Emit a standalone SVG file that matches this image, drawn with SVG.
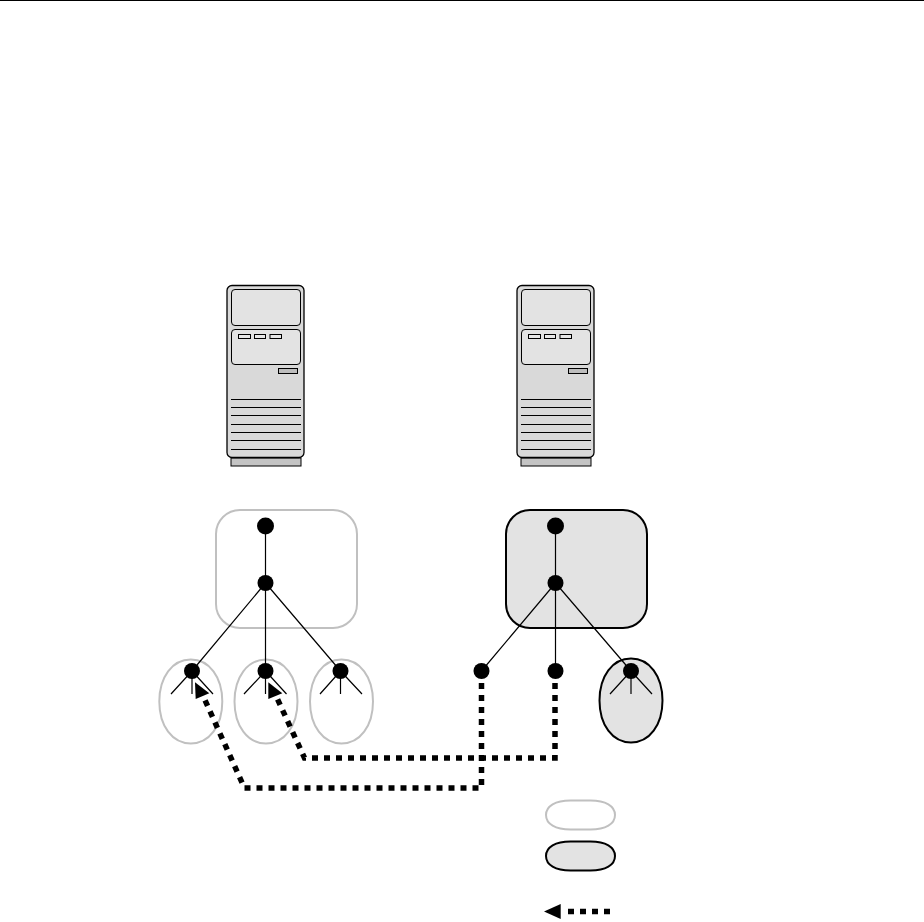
<svg xmlns="http://www.w3.org/2000/svg" width="924" height="922" viewBox="0 0 924 922">
<style>
.body{fill:#d9d9d9;stroke:#000;stroke-width:1.3}
.panel{fill:#e3e3e3;stroke:#000;stroke-width:1}
.btn{fill:#e8e8e8;stroke:#000;stroke-width:1}
.slot{fill:#bdbdbd;stroke:#000;stroke-width:1}
.base{fill:#c4c4c4;stroke:#000;stroke-width:1}
.line{stroke:#000;stroke-width:1.2;fill:none}
.light{fill:#fff;stroke:#c0c0c0;stroke-width:2}
.dark{fill:#e3e3e3;stroke:#000;stroke-width:2}
.dash{stroke:#000;stroke-width:5.5;stroke-dasharray:6 6;fill:none}
</style>
<defs>
<g id="server">
<rect class="base" x="231" y="458" width="70" height="8"/>
<rect class="body" x="227" y="285.500" width="77" height="172" rx="5"/>
<rect class="panel" x="231.500" y="289.500" width="69" height="36" rx="3.500"/>
<rect class="panel" x="231.500" y="329.500" width="69" height="35" rx="3.500"/>
<rect class="btn" x="238.500" y="334.500" width="12" height="4"/>
<rect class="btn" x="254.500" y="334.500" width="11" height="4"/>
<rect class="btn" x="270" y="334.500" width="11.500" height="4"/>
<rect class="slot" x="278.500" y="368.500" width="19" height="5"/>
<path class="line" d="M231 399.500H301M231 407.500H301M231 415.500H301M231 424.500H301M231 432.500H301M231 440.500H301M231 449.500H301"/>
</g>
<path id="egg" d="M0 -42C18.500 -42 31.500 -24.500 31.500 0C31.500 24.500 18.500 42 0 42C-18.500 42 -31.500 24.500 -31.500 0C-31.500 -24.500 -18.500 -42 0 -42Z"/>
<path id="pill" d="M-10 -14.500H10C25 -14.500 34.500 -9 34.500 0C34.500 9 25 14.500 10 14.500H-10C-25 14.500 -34.500 9 -34.500 0C-34.500 -9 -25 -14.500 -10 -14.500Z"/>
</defs>
<path d="M0 .5H924" stroke="#000" stroke-width="1"/>
<g id="server-1"><use href="#server"/></g>
<g id="server-2"><use href="#server" x="290"/></g>
<g id="group-1"><rect class="light" x="216" y="510" width="141" height="118" rx="24"/></g>
<g id="group-2"><rect class="dark" x="506" y="510" width="141" height="118" rx="24"/></g>
<g id="leaf-group-1"><use href="#egg" class="light" x="190.800" y="701.500"/></g>
<g id="leaf-group-2"><use href="#egg" class="light" x="266" y="701.500"/></g>
<g id="leaf-group-3"><use href="#egg" class="light" x="341.500" y="701.500"/></g>
<g id="leaf-group-4"><use href="#egg" class="dark" x="631" y="700.500"/></g>
<g id="connectors">
<path class="line" d="M265.500 526V583M265.500 583L192 671M265.500 583V671M265.500 583L340.500 671"/>
<path class="line" d="M555.500 526V583M555.500 583L481.500 671M555.500 583V671M555.500 583L631 671"/>
<path class="line" d="M192 671L171 694M192 671V694M192 671L213 694M265.500 671L244 694M265.500 671V694M265.500 671L286.500 694M340.500 671L320 694M340.500 671V694M340.500 671L362 694M631 671L610 694M631 671V694M631 671L652 694"/>
<path class="dash" d="M481.500 683V788H244.500L204 698"/>
<path class="dash" d="M555 683V758H304.500L277 698"/>
<path d="M195 682.300L209.300 693.300L195.700 699Z" fill="#000"/>
<path d="M268.300 682.300L282.300 693.300L268.300 699Z" fill="#000"/>
<path class="dash" d="M610 911.500H562"/>
<path d="M560.700 904V919L544 911.500Z" fill="#000"/>
</g>
<g id="nodes">
<circle cx="265.500" cy="526" r="8.500"/>
<circle cx="265.500" cy="583" r="8"/>
<circle cx="192" cy="671" r="8"/>
<circle cx="265.500" cy="671" r="8"/>
<circle cx="340.500" cy="671" r="8"/>
<circle cx="555.500" cy="526" r="8.500"/>
<circle cx="555.500" cy="583" r="8"/>
<circle cx="481.500" cy="671" r="8"/>
<circle cx="555.500" cy="671" r="8"/>
<circle cx="631" cy="671" r="8"/>
</g>
<g id="legend-light"><use href="#pill" class="light" x="580.500" y="815"/></g>
<g id="legend-dark"><use href="#pill" class="dark" x="580.500" y="856"/></g>
</svg>
